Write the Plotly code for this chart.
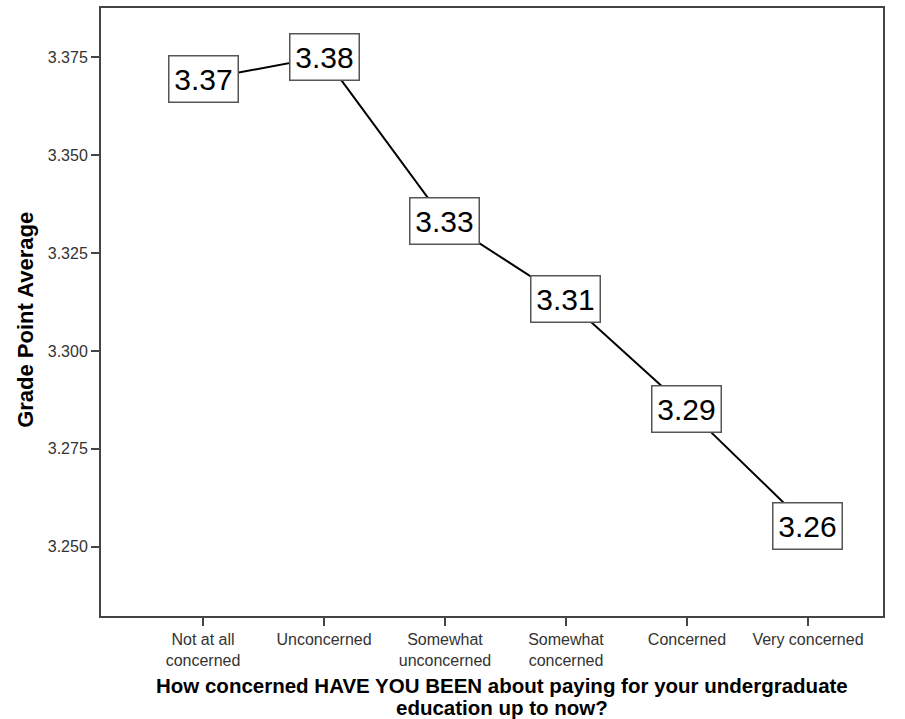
import plotly.graph_objects as go

categories = ["Not at all<br>concerned", "Unconcerned", "Somewhat<br>unconcerned",
              "Somewhat<br>concerned", "Concerned", "Very concerned"]
gpa_means = [3.3694, 3.3752, 3.3332, 3.3132, 3.2852, 3.2552]
y_ticks = [3.250, 3.275, 3.300, 3.325, 3.350, 3.375]
y_tick_labels = ["3.250", "3.275", "3.300", "3.325", "3.350", "3.375"]
x_title_lines = ["How concerned HAVE YOU BEEN about paying for your undergraduate",
                 "education up to now?"]
y_title = "Grade Point Average"

x_idx = list(range(len(categories)))
FONT = "Arial, Liberation Sans, sans-serif"

fig = go.Figure()
fig.add_trace(go.Scatter(
    x=x_idx, y=gpa_means, mode="lines",
    line=dict(color="black", width=2), showlegend=False, hoverinfo="skip"))

for xi, v in zip(x_idx, gpa_means):
    fig.add_annotation(
        x=xi, y=v, xref="x", yref="y", text=f"{v:.2f}", showarrow=False,
        font=dict(family=FONT, size=30, color="black"),
        bgcolor="white", bordercolor="#555555", borderwidth=1.5,
        width=66, height=43, borderpad=1, align="center", valign="middle")

# axis titles
fig.add_annotation(xref="paper", yref="paper", x=0.513, y=-0.114, text=f"<b>{x_title_lines[0]}</b>",
                   showarrow=False, xanchor="center", yanchor="middle",
                   font=dict(family=FONT, size=20.5, color="black"))
fig.add_annotation(xref="paper", yref="paper", x=0.513, y=-0.151, text=f"<b>{x_title_lines[1]}</b>",
                   showarrow=False, xanchor="center", yanchor="middle",
                   font=dict(family=FONT, size=20.5, color="black"))
fig.add_annotation(xref="paper", yref="paper", x=-0.096, y=0.487, text=f"<b>{y_title}</b>",
                   showarrow=False, xanchor="center", yanchor="middle", textangle=-90,
                   font=dict(family=FONT, size=22, color="black"))

axis_font = dict(family=FONT, size=16, color="#333333")
fig.update_layout(
    width=905, height=719,
    margin=dict(l=101, r=22, t=8, b=103),
    paper_bgcolor="white", plot_bgcolor="white",
    xaxis=dict(
        range=[-0.843, 5.62], tickmode="array", tickvals=x_idx, ticktext=categories,
        showgrid=False, zeroline=False, showline=True, linecolor="#444444", linewidth=2,
        mirror=True, ticks="outside", ticklen=8, tickcolor="#444444", tickwidth=2,
        tickfont=axis_font, automargin=False),
    yaxis=dict(
        range=[3.2323, 3.3876], tickmode="array", tickvals=y_ticks, ticktext=y_tick_labels,
        showgrid=False, zeroline=False, showline=True, linecolor="#444444", linewidth=2,
        mirror=True, ticks="outside", ticklen=8, tickcolor="#444444", tickwidth=2,
        tickfont=axis_font, automargin=False),
)

fig.write_html("out.html", config={"displayModeBar": False},
               post_script="document.body.style.margin='0';document.body.style.overflow='hidden';")
